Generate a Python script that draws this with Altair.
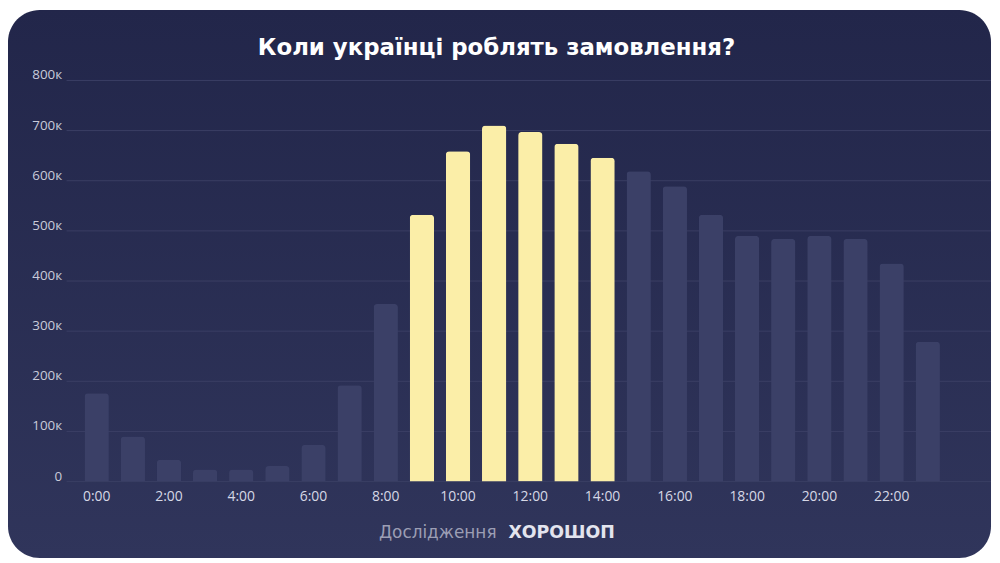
import altair as alt
import pandas as pd

HOURS = [
    "0:00", "1:00", "2:00", "3:00", "4:00", "5:00", "6:00", "7:00",
    "8:00", "9:00", "10:00", "11:00", "12:00", "13:00", "14:00", "15:00",
    "16:00", "17:00", "18:00", "19:00", "20:00", "21:00", "22:00", "23:00",
]
ORDERS = [
    176000, 90000, 43500, 24000, 24000, 31000, 73000, 192000,
    354000, 532000, 659000, 710000, 697000, 674000, 646000, 619000,
    589000, 532000, 490000, 484000, 490000, 484000, 435000, 279000,
]
PEAK_HOURS = ["9:00", "10:00", "11:00", "12:00", "13:00", "14:00"]
X_TICKS = ["0:00", "2:00", "4:00", "6:00", "8:00", "10:00",
           "12:00", "14:00", "16:00", "18:00", "20:00", "22:00"]
Y_TICKS = [0, 100000, 200000, 300000, 400000, 500000, 600000, 700000, 800000]

TITLE = "Коли українці роблять замовлення?"
SOURCE = "Дослідження"
BRAND = "ХОРОШОП"

FONT = "Open Sans"
WIDE_FONT = "DejaVu Sans"
PEAK_COLOR = "#fbeea8"
BAR_COLOR = "#3b4067"
GRID_COLOR = "#3a3e64"
CARD_TOP = "#22264a"
CARD_BOTTOM = "#30355b"

W, H = 931, 404

bars_df = pd.DataFrame({"hour": HOURS, "orders": ORDERS})
bars_df["group"] = ["peak" if h in PEAK_HOURS else "other" for h in HOURS]
grid_df = pd.DataFrame({"orders": Y_TICKS})
one = pd.DataFrame({"k": [0]})

y_scale = alt.Scale(domain=[0, 800000], nice=False)
y_axis = alt.Axis(
    values=Y_TICKS, ticks=False, domain=False, grid=False,
    labelExpr="datum.value == 0 ? '0' : (datum.value / 1000) + 'к'",
    labelPadding=5, labelBaseline="alphabetic", labelOffset=-1.5,
    labelFont=FONT, labelFontSize=13.5, labelColor="#c9cbda", zindex=1,
)

card = (
    alt.Chart(one)
    .mark_rect(
        cornerRadius=32,
        fill=alt.LinearGradient(
            gradient="linear",
            stops=[
                alt.GradientStop(color=CARD_TOP, offset=0),
                alt.GradientStop(color=CARD_BOTTOM, offset=1),
            ],
            x1=0, x2=0, y1=0, y2=1,
        ),
    )
    .encode(
        x=alt.value(-59), x2=alt.value(W),
        y=alt.value(-71), y2=alt.value(H + 77),
    )
)

grid = (
    alt.Chart(grid_df)
    .mark_rule(color=GRID_COLOR, strokeWidth=1)
    .encode(
        y=alt.Y("orders:Q", scale=y_scale, axis=y_axis, title=None),
        x=alt.value(0), x2=alt.value(W),
    )
)

bars = (
    alt.Chart(bars_df)
    .mark_bar(cornerRadiusTopLeft=3.5, cornerRadiusTopRight=3.5)
    .encode(
        x=alt.X(
            "hour:N", sort=HOURS, title=None,
            scale=alt.Scale(paddingInner=0.327, paddingOuter=0.955, align=0.26),
            axis=alt.Axis(
                values=X_TICKS, labelAngle=0, ticks=False, domain=False,
                labelPadding=8, labelFont=FONT, labelFontSize=14,
                labelColor="#d6d8e6", grid=False, zindex=1,
            ),
        ),
        y=alt.Y("orders:Q", scale=y_scale, axis=y_axis, title=None),
        color=alt.Color(
            "group:N", legend=None,
            scale=alt.Scale(domain=["peak", "other"], range=[PEAK_COLOR, BAR_COLOR]),
        ),
    )
)

title = (
    alt.Chart(one)
    .mark_text(align="center", baseline="middle", font=WIDE_FONT, fontSize=23,
               fontWeight="bold", color="#ffffff")
    .encode(x=alt.value(433), y=alt.value(-33), text=alt.value(TITLE))
)
source = (
    alt.Chart(one)
    .mark_text(align="right", baseline="middle", font=WIDE_FONT, fontSize=17,
               color="#9c9eb4")
    .encode(x=alt.value(433), y=alt.value(456), text=alt.value(SOURCE))
)
brand = (
    alt.Chart(one)
    .mark_text(align="left", baseline="middle", font=WIDE_FONT,
               fontSize=17.5, fontWeight="bold", color="#e3e4ee")
    .encode(x=alt.value(445), y=alt.value(456), text=alt.value(BRAND))
)

chart = (
    alt.layer(card, grid, bars, title, source, brand)
    .properties(width=W, height=H, padding=0, background="white")
    .configure_view(stroke=None)
)

chart.save("out.html", embed_options={"renderer": "svg", "actions": False})
